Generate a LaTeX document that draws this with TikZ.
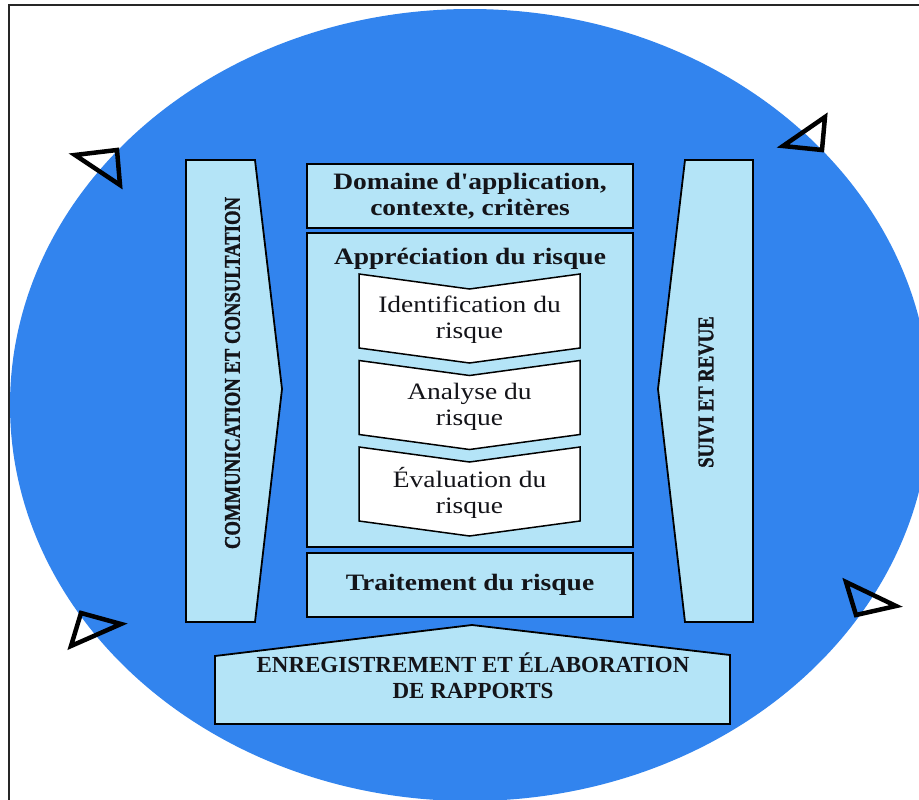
\documentclass[tikz,border=0pt]{standalone}
\usepackage{fontspec}
\setmainfont{Liberation Serif}[FakeStretch=1.17]
\newfontfamily\headfont{Liberation Serif}[FakeStretch=1.17]
\newfontfamily\capsfont{Liberation Serif}
\newfontfamily\sidefont{Liberation Serif}[FakeStretch=0.83, FakeBold=1.2]
\definecolor{cycleblue}{RGB}{50,132,238}
\definecolor{boxfill}{RGB}{180,228,247}
\definecolor{inktext}{RGB}{20,20,25}
\tikzset{
  panel/.style={draw=black, line width=1.8pt, fill=boxfill},
  stage/.style={draw=black, line width=1.5pt, fill=white},
  marker/.style={draw=black, line width=4.5pt, line join=miter},
  headtext/.style={font=\headfont\fontsize{23.5}{26}\selectfont\bfseries, text=inktext, align=center},
  steptext/.style={font=\fontsize{23.5}{26}\selectfont, text=inktext, align=center},
  sidetext/.style={font=\sidefont\fontsize{22.5}{24}\selectfont\bfseries, text=inktext, rotate=90},
  basetext/.style={font=\capsfont\fontsize{23}{26}\selectfont\bfseries, text=inktext, align=center},
}
\begin{document}
\begin{tikzpicture}[scale=1.000000,x=1pt,y=-1pt]
\useasboundingbox (0,0) rectangle (919,800);
\fill[white] (0,0) rectangle (919,800);
% Drawing frame and cycle
\draw[line width=1.5pt, black!85] (9,5) rectangle (930,812);
\fill[cycleblue] (470,405) ellipse [x radius=460pt, y radius=396pt];
% Direction markers on the cycle
\draw[marker] (75,155) -- (117,150) -- (120,185) -- cycle;
\draw[marker] (783,146) -- (825,117) -- (822,150) -- cycle;
\draw[marker] (81,613) -- (121,624) -- (71,646) -- cycle;
\draw[marker] (846,582) -- (896,606) -- (856,615) -- cycle;
% Side arrows
\draw[panel] (186,160) -- (255,160) -- (282,389) -- (255,622) -- (186,622) -- cycle;
\node[sidetext] (comm) at (232.5,373) {COMMUNICATION ET CONSULTATION};
\draw[panel] (685,160) -- (753,160) -- (753,622) -- (685,622) -- (658,389) -- cycle;
\node[sidetext] (suivi) at (706,392) {SUIVI ET REVUE};
% Central column
\node[panel, headtext, minimum width=326pt, minimum height=64pt] (domaine) at (470,196) {Domaine d'application,\\contexte, critères};
\node[panel, minimum width=326pt, minimum height=314pt] (appreciation) at (470,390) {};
\node[headtext, anchor=base] (apprtitle) at (470,264) {Appréciation du risque};
\foreach \name/\lineA [count=\i from 0] in {ident/Identification du, analyse/Analyse du, evaluation/Évaluation du} {
  \pgfmathsetmacro\ytop{274+86.5*\i}
  \draw[stage] (359,\ytop) -- (469.5,\ytop+15) -- (580,\ytop) -- (580,\ytop+74) -- (469.5,\ytop+89) -- (359,\ytop+74) -- cycle;
  \node[steptext] (\name) at (469.5,\ytop+46) {\lineA\\risque};
}
\node[panel, headtext, minimum width=326pt, minimum height=64pt] (traitement) at (470,585) {Traitement du risque};
% Bottom arrow
\draw[panel] (215,656) -- (472,625) -- (730,655) -- (730,724) -- (215,724) -- cycle;
\node[basetext] (rapports) at (473,676) {ENREGISTREMENT ET ÉLABORATION\\DE RAPPORTS};
\end{tikzpicture}
\end{document}
